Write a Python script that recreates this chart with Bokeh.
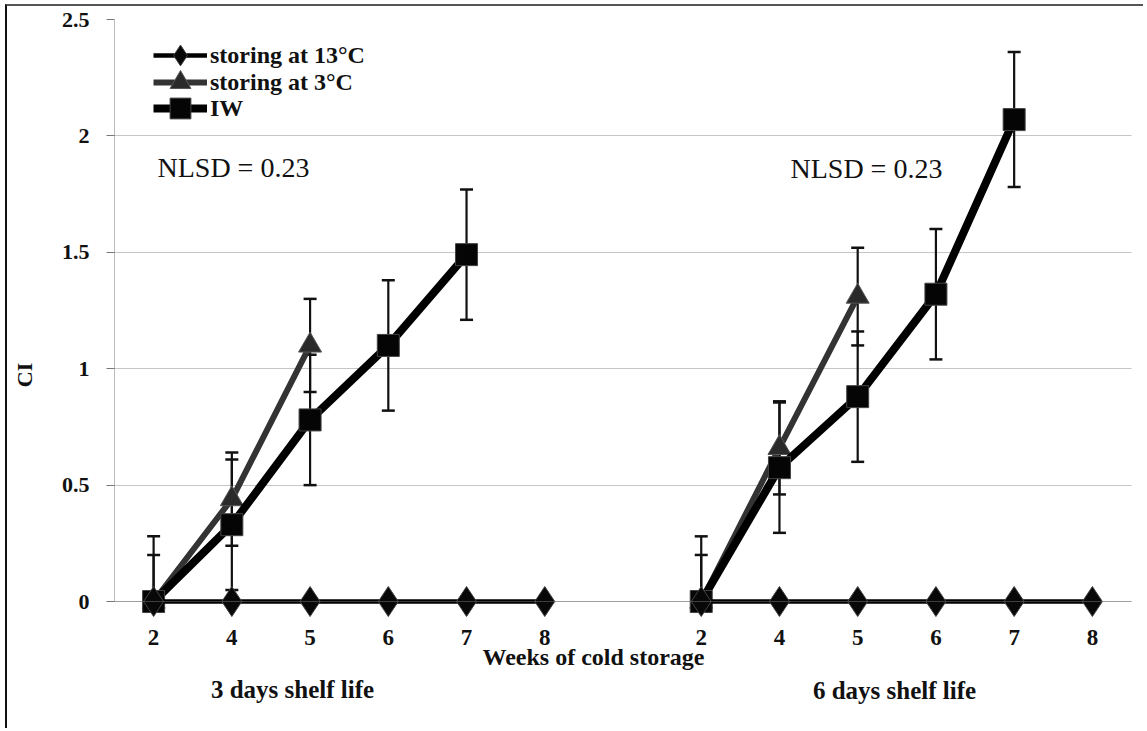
import math
from bokeh.plotting import figure
from bokeh.models import (FactorRange, Range1d, FixedTicker, CustomJSTickFormatter, Label,
                          Legend, LegendItem)
from bokeh.embed import file_html
from bokeh.resources import INLINE

NAN = float("nan")

# ---- data -----------------------------------------------------------------
groups = ["3 days shelf life", "6 days shelf life"]
weeks = ["2", "4", "5", "6", "7", "8"]

s13_g1 = [0, 0, 0, 0, 0, 0]
s13_g2 = [0, 0, 0, 0, 0, 0]
s3_g1 = [0, 0.44, 1.10, NAN, NAN, NAN]
s3_g2 = [0, 0.66, 1.31, NAN, NAN, NAN]
iw_g1 = [0, 0.33, 0.78, 1.10, 1.49, NAN]
iw_g2 = [0, 0.575, 0.88, 1.32, 2.07, NAN]
err_s3_g1 = [0.20, 0.20, 0.20, NAN, NAN, NAN]
err_s3_g2 = [0.20, 0.20, 0.21, NAN, NAN, NAN]
err_iw_g1 = [0.28, 0.28, 0.28, 0.28, 0.28, NAN]
err_iw_g2 = [0.28, 0.28, 0.28, 0.28, 0.29, NAN]

y_ticks = [0, 0.5, 1, 1.5, 2, 2.5]
series_names = ["storing at 13\u00b0C", "storing at 3\u00b0C", "IW"]
nlsd_text = "NLSD = 0.23"
x_title = "Weeks of cold storage"
y_title = "CI"

# ---- figure ---------------------------------------------------------------
SERIF = "Liberation Serif"
factors = [(g, w) for g in groups for w in weeks]
x_range = FactorRange(*factors, group_padding=1.0, factor_padding=0.0, range_padding=0.0)

FRAME_H = 711
p = figure(
    x_range=x_range,
    y_range=Range1d(-0.554, 2.5),
    width=1138, height=724,
    min_border_left=107, min_border_right=14, min_border_top=13, min_border_bottom=0,
    output_backend="svg", toolbar_location=None,
)
p.styles = {"border-left": "2px solid #111", "border-top": "2px solid #555",
            "margin-left": "5px", "margin-top": "4px"}
p.outline_line_color = None
p.background_fill_color = "white"
p.border_fill_color = "white"

# grid
p.xgrid.grid_line_color = None
p.ygrid.ticker = FixedTicker(ticks=y_ticks)
p.ygrid.grid_line_color = "#8a8a8a"
p.ygrid.grid_line_dash = "1 1"
p.ygrid.grid_line_width = 1

# y axis
ya = p.yaxis[0]
ya.bounds = (0, 2.5)
ya.ticker = FixedTicker(ticks=y_ticks)
ya.formatter = CustomJSTickFormatter(code="return tick.toString();")
ya.axis_line_color = "#777777"
ya.axis_line_dash = "1 1"
ya.major_tick_line_color = "#777777"
ya.major_tick_out = 8
ya.major_tick_in = 0
ya.minor_tick_line_color = None
ya.major_label_standoff = 17
ya.major_label_text_font = SERIF
ya.major_label_text_font_style = "bold"
ya.major_label_text_font_size = "22px"
ya.major_label_text_color = "#111111"
ya.axis_label = y_title
ya.axis_label_text_font = SERIF
ya.axis_label_text_font_style = "bold"
ya.axis_label_text_font_size = "22px"
ya.axis_label_text_color = "#111111"
ya.axis_label_standoff = 22

# x axis (drawn at y = 0 inside the frame)
xa = p.xaxis[0]
xa.fixed_location = 0
xa.axis_line_color = "#777777"
xa.axis_line_dash = "1 1"
xa.major_tick_line_color = None
xa.major_tick_out = 0
xa.major_tick_in = 0
xa.minor_tick_line_color = None
xa.major_label_standoff = 28
xa.major_label_text_font = SERIF
xa.major_label_text_font_style = "bold"
xa.major_label_text_font_size = "23px"
xa.major_label_text_color = "#111111"
xa.group_text_color = None
xa.group_text_font_size = "1px"
xa.separator_line_color = None

# ---- error bars -----------------------------------------------------------
def error_bars(xs, vals, errs):
    bx, top, bot, lowx, lowy = [], [], [], [], []
    for x, v, e in zip(xs, vals, errs):
        if math.isnan(v) or math.isnan(e):
            continue
        lo = max(0.0, v - e)
        bx.append(x); top.append(v + e); bot.append(lo)
        if v - e > 0:
            lowx.append(x); lowy.append(v - e)
    p.segment(x0=bx, y0=bot, x1=bx, y1=top, line_color="#111111", line_width=2.2)
    p.scatter(x=bx, y=top, marker="dash", size=13, line_color="#111111", line_width=2.5)
    if lowx:
        p.scatter(x=lowx, y=lowy, marker="dash", size=13, line_color="#111111", line_width=2.5)

g1 = [(groups[0], w) for w in weeks]
g2 = [(groups[1], w) for w in weeks]

error_bars(g1, s3_g1, err_s3_g1)
error_bars(g2, s3_g2, err_s3_g2)
error_bars(g1, iw_g1, err_iw_g1)
error_bars(g2, iw_g2, err_iw_g2)

# ---- series ---------------------------------------------------------------
legend_renderers = {n: [] for n in series_names}
for i, (xs, a, b, c) in enumerate([(g1, s13_g1, s3_g1, iw_g1), (g2, s13_g2, s3_g2, iw_g2)]):
    l3 = p.line(x=xs, y=b, line_color="#333333", line_width=6)
    m3 = p.scatter(x=xs, y=b, marker="triangle", size=23, fill_color="#2a2a2a",
                   line_color="#555555", line_width=1)
    liw = p.line(x=xs, y=c, line_color="#000000", line_width=8)
    miw = p.scatter(x=xs, y=c, marker="square", size=22, fill_color="#050505",
                    line_color="#444444", line_width=1)
    l13 = p.line(x=xs, y=a, line_color="#000000", line_width=4.5)
    m13 = p.scatter(x=xs, y=a, marker="diamond", size=30, fill_color="#080808",
                    line_color="#444444", line_width=1)
    if i == 0:
        legend_renderers[series_names[0]] = [l13, m13]
        legend_renderers[series_names[1]] = [l3, m3]
        legend_renderers[series_names[2]] = [liw, miw]

# one single-item legend per series, stacked like the reference
ITEM_H = 52
for name, center_y in zip(series_names, [55, 82, 108]):
    leg = Legend(items=[LegendItem(label=name, renderers=legend_renderers[name])])
    leg.location = (39, FRAME_H + 19 + ITEM_H // 2 - center_y - ITEM_H)
    leg.background_fill_alpha = 0
    leg.border_line_color = None
    leg.padding = 0
    leg.margin = 0
    leg.spacing = 0
    leg.glyph_width = 54
    leg.glyph_height = ITEM_H
    leg.label_height = ITEM_H
    leg.label_standoff = 3
    leg.label_text_font = SERIF
    leg.label_text_font_style = "bold"
    leg.label_text_font_size = "24px"
    leg.label_text_color = "#111111"
    p.add_layout(leg)

# ---- text annotations ------------------------------------------------------
def lab(txt, x, y, size, style, align="left"):
    p.add_layout(Label(x=x, y=y, x_units="screen", y_units="data", text=txt,
                       text_font=SERIF, text_font_style=style, text_font_size=size,
                       text_color="#111111", text_align=align, text_baseline="middle"))

lab(nlsd_text, 43, 1.864, "28px", "normal")
lab(nlsd_text, 676, 1.86, "28px", "normal")
lab(x_title, 479, -0.24, "24px", "bold", "center")
lab(groups[0], 178, -0.378, "25px", "bold", "center")
lab(groups[1], 780, -0.383, "25px", "bold", "center")

open("out.html", "w").write(file_html(p, INLINE))
